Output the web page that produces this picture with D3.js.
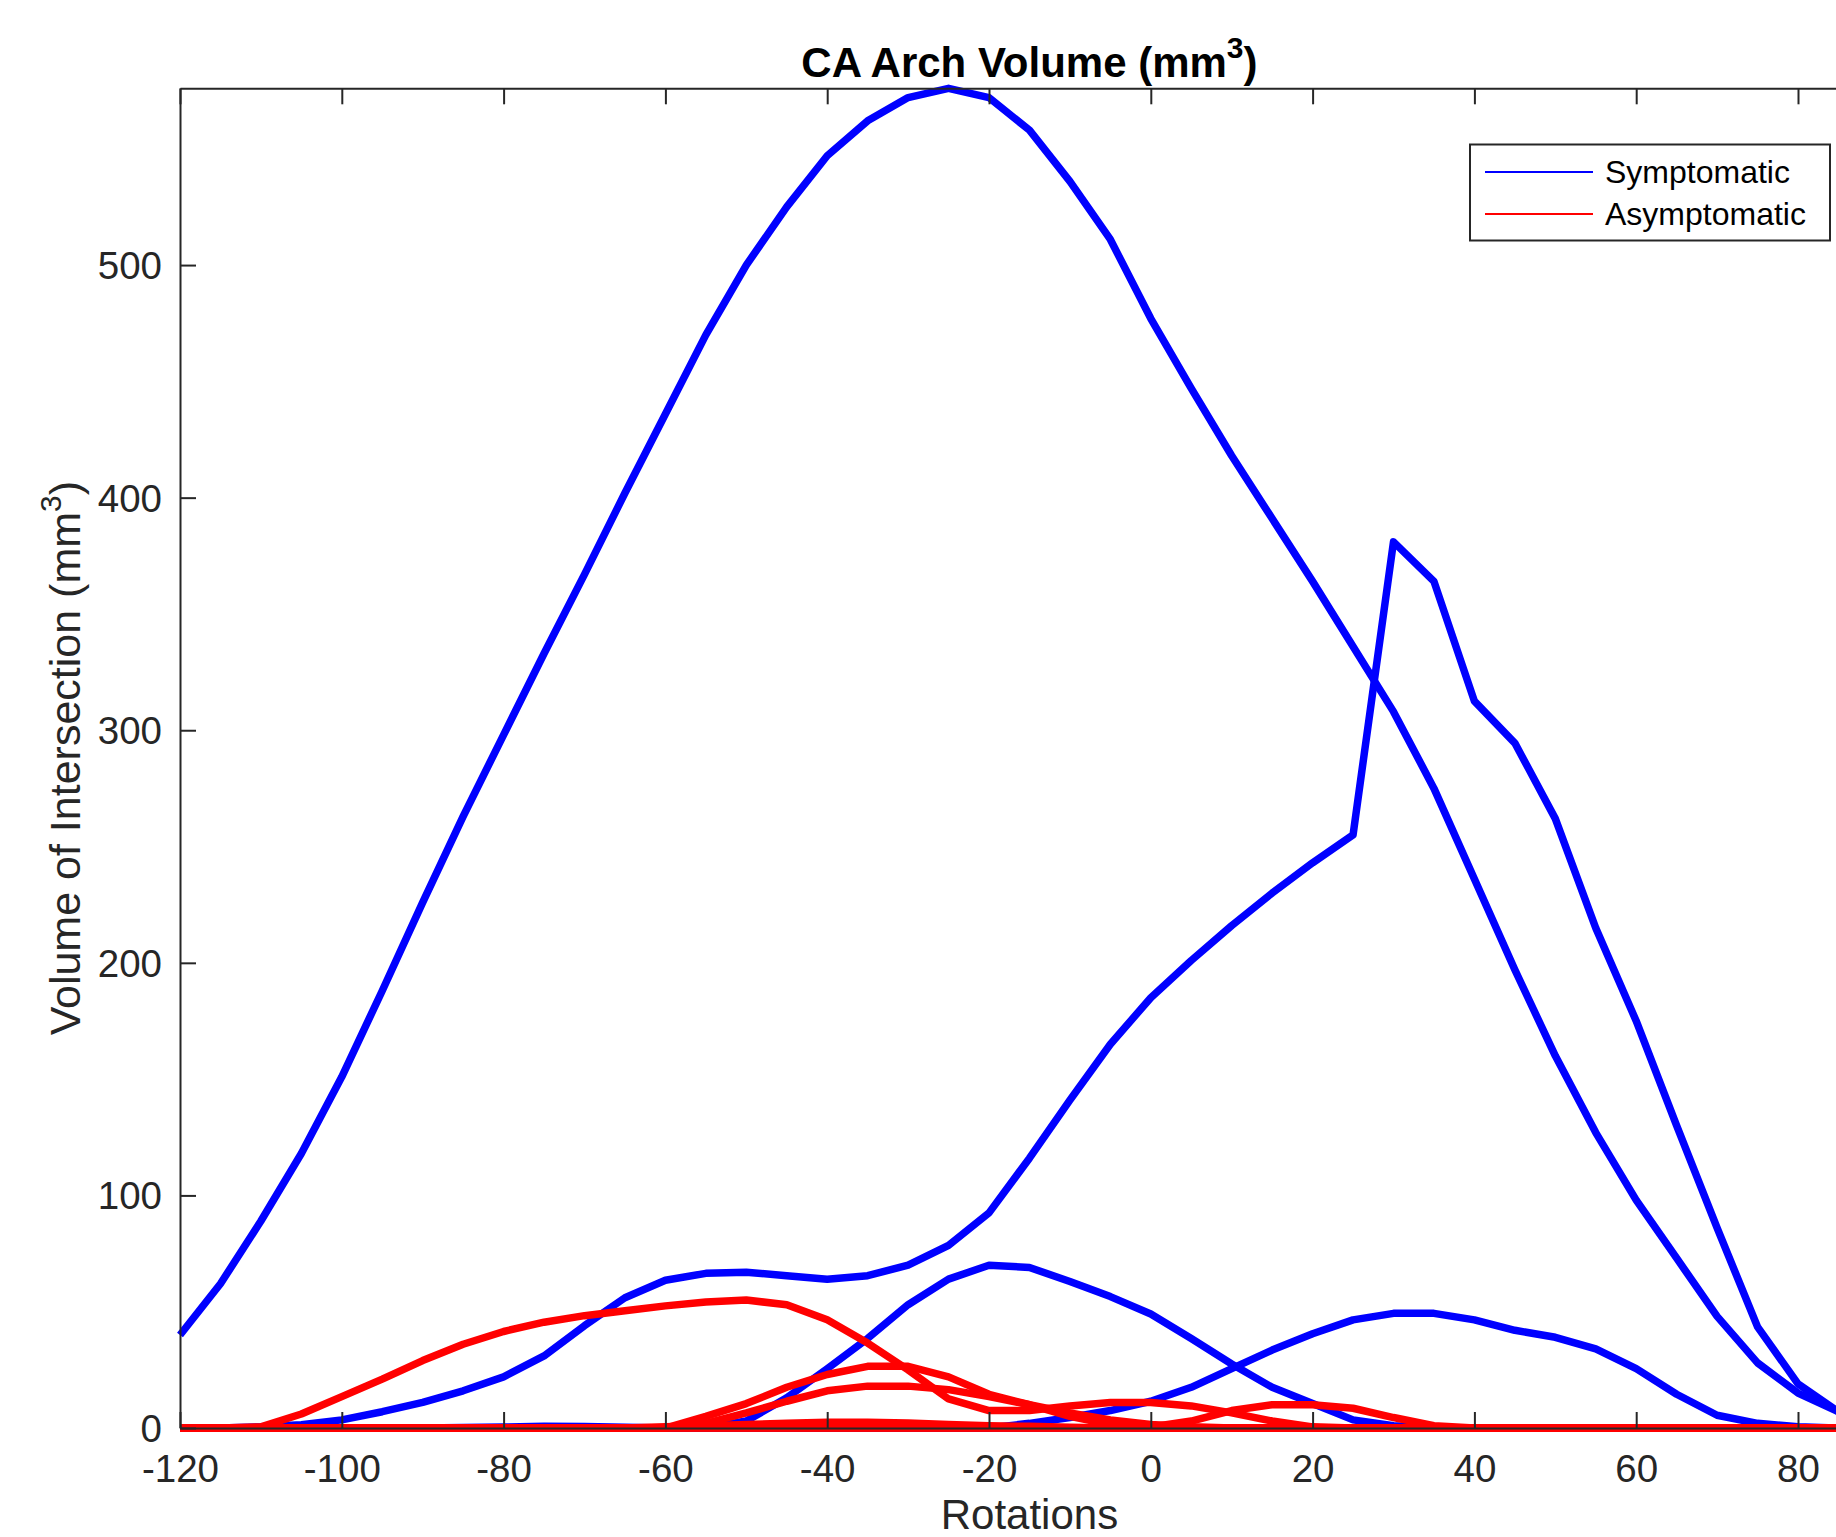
<!doctype html>
<html>
<head>
  <meta charset="utf-8">
  <style>
    body { margin: 0; background: #fff; }
    svg { display: block; font-family: "Liberation Sans", Arial, Helvetica, sans-serif; }
  </style>
  <script src="https://d3js.org/d3.v7.min.js"></script>
</head>
<body>
  <script>
  // rotation angles (x categories)
  var angles = [-120, -115, -110, -105, -100, -95, -90, -85, -80, -75, -70, -65, -60, -55, -50, -45, -40, -35, -30, -25, -20,
                -15, -10, -5, 0, 5, 10, 15, 20, 25, 30, 35, 40, 45, 50, 55, 60, 65, 70, 75, 80, 85, 90];

  // Symptomatic cases
  var symA = [40, 62, 89, 118, 151, 188, 226, 263, 298, 333, 367, 402, 436, 470, 500, 525, 547, 562, 572, 576, 572,
              558, 536, 511, 477, 447, 418, 391, 364, 336, 308, 275, 236, 197, 160, 127, 98, 73, 48, 28, 15, 7, 2];
  var symB = [0, 0, 0.5, 1.4, 3.5, 7, 11, 16, 22, 31, 44, 56, 63.5, 66.5, 67, 65.5, 64, 65.5, 70, 78.5, 92.5,
              116, 141, 165, 185, 201, 216, 230, 243, 255, 381, 364, 312.5, 294.5, 262, 215, 175, 130, 86, 43.5, 19, 7, 1];
  var symC = [0, 0, 0, 0, 0, 0, 0, 0, 0, 0, 0, 0, 0, 0, 3, 13, 25.5, 38.5, 53, 64, 70,
              69, 63, 56.5, 49, 38.5, 27.5, 17.5, 10.5, 3.5, 1, 0, 0, 0, 0, 0, 0, 0, 0, 0, 0, 0, 0];
  var symD = [0, 0, 0, 0, 0, 0, 0, 0, 0, 0, 0, 0, 0, 0, 0, 0, 0, 0, 0, 0, 0,
              2, 4.5, 7.5, 11.5, 17.5, 25.5, 33.5, 40.5, 46.5, 49.3, 49.3, 46.5, 42, 39, 34, 25.5, 14.5, 5.5, 2, 0.5, 0, 0];
  var symE = [0, 0, 0, 0, 0, 0, 0, 0.2, 0.4, 0.7, 0.6, 0.3, 0, 0, 0, 0, 0, 0, 0, 0, 0,
              0, 0, 0, 0, 0, 0, 0, 0, 0, 0, 0, 0, 0, 0, 0, 0, 0, 0, 0, 0, 0, 0];

  // Asymptomatic cases
  var asyA = [0, 0, 0.5, 6, 13.5, 21, 29, 36, 41.5, 45.5, 48.3, 50.4, 52.5, 54.2, 55, 53, 46.5, 36.5, 25, 12.5, 7.5,
              7.5, 9.5, 11, 11, 9.5, 6.5, 3, 0.5, 0, 0, 0, 0, 0, 0, 0, 0, 0, 0, 0, 0, 0, 0];
  var asyB = [0, 0, 0, 0, 0, 0, 0, 0, 0, 0, 0, 0, 0, 5, 10.5, 17.5, 23, 26.5, 26.5, 22, 14.5,
              10, 5, 1.5, 0, 0, 0, 0, 0, 0, 0, 0, 0, 0, 0, 0, 0, 0, 0, 0, 0, 0, 0];
  var asyC = [0, 0, 0, 0, 0, 0, 0, 0, 0, 0, 0, 0, 0, 2, 6.5, 11.5, 16, 18, 18, 16.5, 13.5,
              10, 6.5, 3.5, 1.5, 0.5, 0, 0, 0, 0, 0, 0, 0, 0, 0, 0, 0, 0, 0, 0, 0, 0, 0];
  var asyD = [0, 0, 0, 0, 0, 0, 0, 0, 0, 0, 0, 0, 0, 0, 0, 0, 0, 0, 0, 0, 0,
              0, 0, 0, 0.5, 3, 7.5, 10, 10, 8.5, 4.5, 1, 0, 0, 0, 0, 0, 0, 0, 0, 0, 0, 0];
  var asyE = [0, 0, 0, 0, 0, 0, 0, 0, 0, 0, 0, 0, 0.5, 1, 1.5, 2, 2.5, 2.5, 2.2, 1.5, 1,
              0.7, 0.3, 0, 0, 0, 0, 0, 0, 0, 0, 0, 0, 0, 0, 0, 0, 0, 0, 0, 0, 0, 0];
  var asyF = [0, 0, 0, 0, 0, 0, 0, 0, 0, 0, 0, 0, 0, 0, 0, 0, 0, 0, 0, 0, 0,
              0, 0, 0, 0, 0, 0, 0, 0, 0, 0, 0, 0, 0, 0, 0, 0, 0, 0, 0, 0, 0, 0];

  var xTicks = [-120, -100, -80, -60, -40, -20, 0, 20, 40, 60, 80];
  var yTicks = [0, 100, 200, 300, 400, 500];
  var legendNames = ["Symptomatic", "Asymptomatic"];

  var blue = "#0000ff", red = "#ff0000", axisCol = "#262626";

  var svgW = 1836, svgH = 1537;
  var plotLeft = 180, plotTop = 88.3, plotBottom = 1428;

  var svg = d3.select("body").append("svg")
      .attr("width", svgW)
      .attr("height", svgH);

  // x axis runs -120..90, the right part falls off the picture
  var x = d3.scaleLinear().domain([-120, 90]).range([plotLeft, plotLeft + 210 * 8.09]);
  var y = d3.scaleLinear().domain([0, 576]).range([plotBottom, plotTop]);

  var series = [
    {v: symA, c: blue}, {v: symB, c: blue}, {v: symC, c: blue}, {v: symD, c: blue}, {v: symE, c: blue},
    {v: asyA, c: red}, {v: asyB, c: red}, {v: asyC, c: red}, {v: asyD, c: red}, {v: asyE, c: red}, {v: asyF, c: red}
  ];

  var line = d3.line()
      .x(function(d, i) { return x(angles[i]); })
      .y(function(d) { return y(d); });

  svg.append("g").selectAll("path")
      .data(series)
      .enter()
      .append("path")
      .attr("d", function(d) { return line(d.v); })
      .attr("fill", "none")
      .attr("stroke", function(d) { return d.c; })
      .attr("stroke-width", 7.5)
      .attr("stroke-linejoin", "round");

  // axes (plain hyphen minus like the original)
  var fmt = function(d) { return String(d); };
  var xAxis = d3.axisBottom(x).tickValues(xTicks).tickSizeInner(-16).tickSizeOuter(0).tickPadding(27).tickFormat(fmt);
  var xTop = d3.axisTop(x).tickValues(xTicks).tickSizeInner(-16).tickSizeOuter(0).tickFormat("");
  var yAxis = d3.axisLeft(y).tickValues(yTicks).tickSizeInner(-16).tickSizeOuter(0).tickPadding(18).tickFormat(fmt);

  var gx = svg.append("g").attr("transform", "translate(0," + plotBottom + ")").call(xAxis);
  var gt = svg.append("g").attr("transform", "translate(0," + plotTop + ")").call(xTop);
  var gy = svg.append("g").attr("transform", "translate(" + plotLeft + ",0)").call(yAxis);

  [gx, gt, gy].forEach(function(g) {
    g.select(".domain").attr("stroke", axisCol).attr("stroke-width", 2);
    g.selectAll(".tick line").attr("stroke", axisCol).attr("stroke-width", 2);
    g.selectAll(".tick text")
      .attr("fill", axisCol)
      .attr("font-size", "38.5px")
      .attr("font-family", "'Liberation Sans', Arial, Helvetica, sans-serif");
  });
  gy.selectAll(".tick text").attr("dy", "0.35em");

  // title
  var title = svg.append("text")
      .attr("x", (x(-120) + x(90)) / 2)
      .attr("y", 77)
      .attr("text-anchor", "middle")
      .attr("font-size", "42px")
      .attr("font-weight", "bold")
      .attr("fill", "#000");
  title.append("tspan").text("CA Arch Volume (mm");
  title.append("tspan").attr("dy", -19).attr("font-size", "30px").text("3");
  title.append("tspan").attr("dy", 19).text(")");

  // axis labels
  svg.append("text")
      .attr("x", (x(-120) + x(90)) / 2)
      .attr("y", 1529)
      .attr("text-anchor", "middle")
      .attr("font-size", "42px")
      .attr("fill", axisCol)
      .text("Rotations");

  var yl = svg.append("text")
      .attr("transform", "translate(80," + ((plotTop + plotBottom) / 2) + ") rotate(-90)")
      .attr("text-anchor", "middle")
      .attr("font-size", "43px")
      .attr("fill", axisCol);
  yl.append("tspan").text("Volume of Intersection (mm");
  yl.append("tspan").attr("dy", -19).attr("font-size", "30px").text("3");
  yl.append("tspan").attr("dy", 19).text(")");

  // legend
  var lg = svg.append("g");
  lg.append("rect")
      .attr("x", 1470).attr("y", 144.5)
      .attr("width", 360).attr("height", 96)
      .attr("fill", "#fff")
      .attr("stroke", axisCol)
      .attr("stroke-width", 2);

  lg.selectAll(".item")
      .data(legendNames)
      .enter()
      .append("g")
      .attr("transform", function(d, i) { return "translate(0," + (172 + i * 42) + ")"; })
      .each(function(d, i) {
        var g = d3.select(this);
        g.append("line")
          .attr("x1", 1485).attr("x2", 1593)
          .attr("stroke", i === 0 ? blue : red)
          .attr("stroke-width", 2);
        g.append("text")
          .attr("x", 1605)
          .attr("dy", "0.35em")
          .attr("font-size", "32px")
          .attr("fill", "#000")
          .text(d);
      });
  </script>
</body>
</html>
